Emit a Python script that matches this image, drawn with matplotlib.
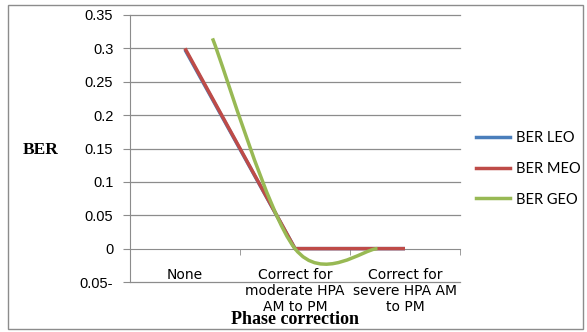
import matplotlib.pyplot as plt
from matplotlib.path import Path
from matplotlib.patches import PathPatch, Rectangle
from matplotlib.lines import Line2D

# data
categories = ['None', 'Correct for\nmoderate HPA\nAM to PM', 'Correct for\nsevere HPA AM\nto PM']
ber_leo = [0.298, 0.0, 0.0]
ber_meo = [0.300, 0.0, 0.0]
geo_pos = [0.25, 1.0, 1.75]
ber_geo = [0.315, 0.0, 0.0]
yticks = [-0.05, 0, 0.05, 0.1, 0.15, 0.2, 0.25, 0.3, 0.35]
ytick_labels = ['0.05-', '0', '0.05', '0.1', '0.15', '0.2', '0.25', '0.3', '0.35']

c_leo = '#4a7ebb'
c_meo = '#be4b48'
c_geo = '#98b954'
grid_c = '#8c8c8c'


def smooth_path(xs, ys):
    # excel style smoothed line: cubic bezier through the points
    pts = list(zip(xs, ys))
    verts = [pts[0]]
    codes = [Path.MOVETO]
    n = len(pts)
    for i in range(n - 1):
        p0 = pts[i - 1] if i > 0 else pts[i]
        p1 = pts[i]
        p2 = pts[i + 1]
        p3 = pts[i + 2] if i + 2 < n else pts[i + 1]
        c1 = (p1[0] + (p2[0] - p0[0]) / 6, p1[1] + (p2[1] - p0[1]) / 6)
        c2 = (p2[0] - (p3[0] - p1[0]) / 6, p2[1] - (p3[1] - p1[1]) / 6)
        verts += [c1, c2, p2]
        codes += [Path.CURVE4] * 3
    return Path(verts, codes)


fig = plt.figure(figsize=(5.87, 3.32), dpi=100)
ax = fig.add_axes([130 / 587, 1 - 282 / 332, 330 / 587, 267 / 332])

x = range(len(categories))
ax.plot(x, ber_leo, color=c_leo, lw=2.5, solid_capstyle='butt', zorder=3)
ax.plot(x, ber_meo, color=c_meo, lw=2.5, solid_capstyle='butt', zorder=4)
ax.add_patch(PathPatch(smooth_path(geo_pos, ber_geo), fill=False, edgecolor=c_geo,
                       lw=2.5, capstyle='butt', zorder=5))

ax.set_xlim(-0.5, 2.5)
ax.set_ylim(-0.05, 0.35)
ax.set_yticks(yticks)
ax.set_yticklabels(ytick_labels, fontfamily='Liberation Sans', fontsize=10.5)
for yv in yticks:
    if yv != 0:
        ax.axhline(yv, color=grid_c, lw=0.9, zorder=1, clip_on=False)

ax.set_xticks(list(x))
ax.set_xticklabels(categories, fontfamily='Lato', fontsize=10.5, linespacing=1.25, va='top')
ax.set_xticks([0.5, 1.5, 2.5], minor=True)
ax.tick_params(axis='x', which='major', length=0, pad=14)
ax.tick_params(axis='x', which='minor', length=4, color=grid_c, direction='out')
ax.tick_params(axis='y', length=5, color=grid_c, pad=7)

ax.spines['top'].set_visible(False)
ax.spines['right'].set_visible(False)
ax.spines['bottom'].set_position(('data', 0))
ax.spines['bottom'].set_color(grid_c)
ax.spines['left'].set_color(grid_c)

fig.text(41 / 587, 1 - 150 / 332, 'BER', ha='center', va='center',
         fontfamily='Liberation Serif', fontweight='bold', fontsize=12.5)
fig.text(295 / 587, 1 - 320 / 332, 'Phase correction', ha='center', va='center',
         fontfamily='Liberation Serif', fontweight='bold', fontsize=13, zorder=6)

handles = [Line2D([], [], color=c_leo, lw=2.5),
           Line2D([], [], color=c_meo, lw=2.5),
           Line2D([], [], color=c_geo, lw=2.5)]
fig.legend(handles, ['BER LEO', 'BER MEO', 'BER GEO'], loc='upper left',
           bbox_to_anchor=(476 / 587, 1 - 131 / 332), frameon=False, borderpad=0,
           borderaxespad=0, prop={'family': 'Lato', 'size': 10.5}, handlelength=2.3,
           handletextpad=0.45, labelspacing=1.15)

fig.patches.append(Rectangle((8 / 587, 3 / 332), 575 / 587, 324 / 332, transform=fig.transFigure,
                             fill=False, edgecolor='#8c8c8c', lw=1))

plt.savefig('out.png', dpi=100)
